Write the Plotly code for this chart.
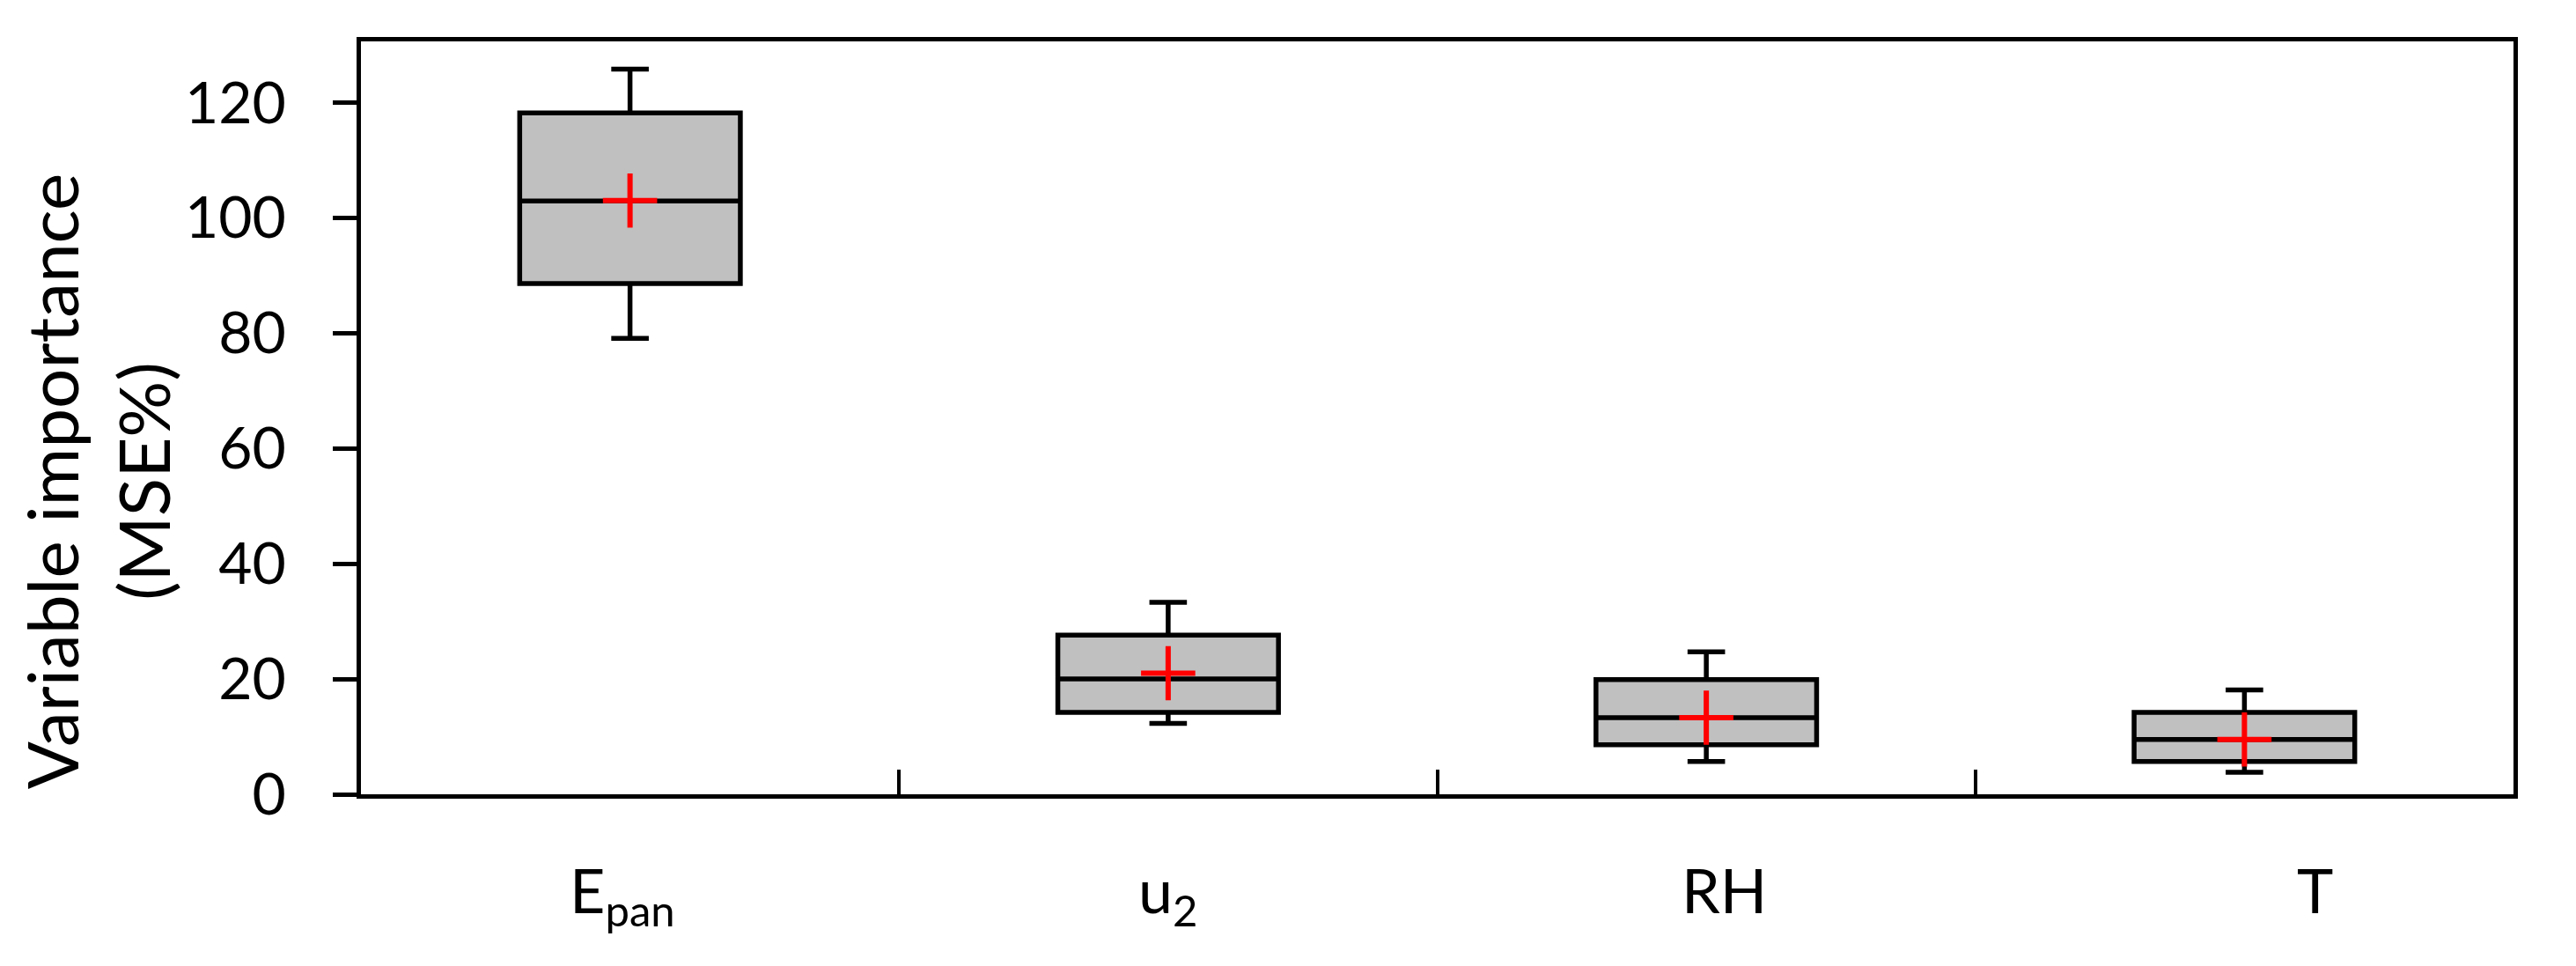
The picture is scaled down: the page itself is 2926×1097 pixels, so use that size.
import plotly.graph_objects as go

# ---- data ----
categories = ["E<sub>pan</sub>", "u<sub>2</sub>", "RH", "T"]
lower_whisker = [79.1, 12.3, 5.7, 3.8]
q1_values = [88.6, 14.2, 8.6, 5.7]
median_values = [102.9, 20.0, 13.3, 9.5]
q3_values = [118.2, 27.6, 19.9, 14.2]
upper_whisker = [125.8, 33.3, 24.7, 18.1]
mean_values = [103.0, 21.0, 13.3, 9.5]
y_ticks = [0, 20, 40, 60, 80, 100, 120]

# styling: horizontal nudges of the category labels (pixels)
label_xshift_px = [-9, 0, 20, 80]

FONT = "Lato"

fig = go.Figure()

fig.add_trace(go.Box(
    x=categories,
    q1=q1_values,
    median=median_values,
    q3=q3_values,
    lowerfence=lower_whisker,
    upperfence=upper_whisker,
    fillcolor="#C0C0C0",
    line=dict(color="black", width=5.5),
    whiskerwidth=0.17,
    width=0.41,
    boxpoints=False,
    hoverinfo="skip",
    showlegend=False,
))

fig.add_trace(go.Scatter(
    x=categories,
    y=mean_values,
    mode="markers",
    marker=dict(symbol="cross-thin", size=44,
                line=dict(color="#FF0000", width=6)),
    hoverinfo="skip",
    showlegend=False,
))

annotations = [dict(
    text="Variable importance<br>(MSE%)",
    xref="paper", yref="paper",
    x=-0.1227, y=0.416,
    xanchor="center", yanchor="middle",
    textangle=-90,
    showarrow=False,
    font=dict(family=FONT, size=80, color="black"),
)]
for cat, dx in zip(categories, label_xshift_px):
    annotations.append(dict(
        text=cat, xref="x", yref="paper",
        x=cat, y=0, xanchor="center", yanchor="top",
        xshift=dx, yshift=-64,
        showarrow=False,
        font=dict(family=FONT, size=70, color="black"),
    ))

# body of the page has an 8px default margin -> compensate in figure margins
fig.update_layout(
    width=2926,
    height=1097,
    margin=dict(l=402, r=79, t=39, b=203),
    paper_bgcolor="white",
    plot_bgcolor="white",
    font=dict(family=FONT, color="black", size=64),
    annotations=annotations,
)

fig.update_xaxes(
    type="category",
    categoryorder="array",
    categoryarray=categories,
    range=[-0.5, 3.5],
    showline=True, linecolor="black", linewidth=5, mirror=True,
    ticks="inside", tickson="boundaries", ticklen=28, tickwidth=4, tickcolor="black",
    showticklabels=False,
    showgrid=False, zeroline=False,
)

fig.update_yaxes(
    range=[0, 130.6],
    tickvals=y_ticks,
    showline=True, linecolor="black", linewidth=5, mirror=True,
    ticks="outside", ticklen=27, tickwidth=5, tickcolor="black",
    tickfont=dict(family=FONT, size=66, color="black"),
    ticklabelstandoff=40,
    showgrid=False, zeroline=False,
)

fig.write_html("out.html")
